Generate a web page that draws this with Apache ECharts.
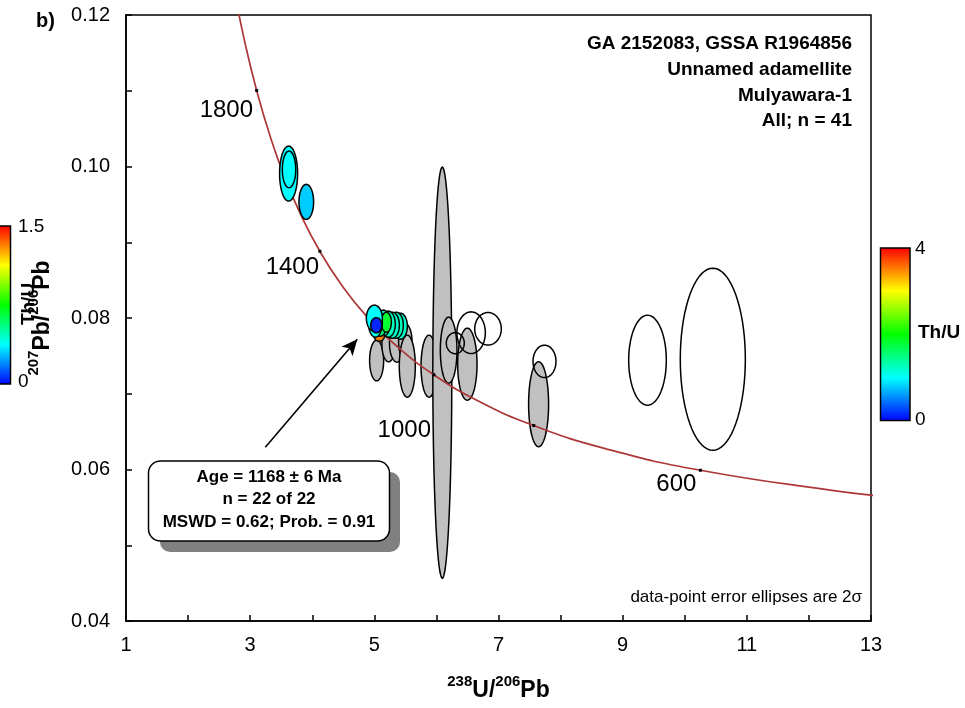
<!DOCTYPE html>
<html>
<head>
<meta charset="utf-8">
<script src="https://cdn.jsdelivr.net/npm/echarts@6/dist/echarts.min.js"></script>
<style>html,body{margin:0;padding:0;background:#fff;}#c{width:965px;height:708px;}</style>
</head>
<body>
<div id="c"></div>
<script>
// Concordia curve (Tera-Wasserburg), ages in Ma
const concAge = [2000,1900,1800,1700,1600,1500,1400,1300,1200,1100,1000,900,800,700,600,500,470];
const concX = [2.749,2.9174,3.1046,3.3140,3.5497,3.8170,4.1227,4.4756,4.8875,5.3746,5.9593,6.6743,7.5684,8.7182,10.2518,12.3993,13.2219];
const concY = [0.12299,0.11629,0.11004,0.10419,0.09872,0.09360,0.08881,0.08432,0.08012,0.07619,0.07250,0.06904,0.06580,0.06276,0.05990,0.05722,0.05645];
const tickAges = [1800,1400,1000,800,600];
const ageLabels = ['1800','1400','1000','600'];
const ageLabelAt = [[2.616,0.10745],[3.679,0.08672],[5.483,0.06519],[9.864,0.05805]];

// Grey (filled) ellipses: centre and 2-sigma semi-axes
const greyX  = [5.037,5.230,5.365,5.499,5.531,5.881,6.095,6.197,6.498,7.646];
const greyY  = [0.07439,0.07654,0.07668,0.07685,0.07364,0.07364,0.07278,0.07575,0.07390,0.06862];
const greySx = [0.113,0.108,0.121,0.108,0.129,0.129,0.153,0.134,0.156,0.161];
const greySy = [0.00268,0.00231,0.00251,0.00238,0.00409,0.00409,0.02714,0.00436,0.00476,0.00561];

// Open ellipses
const openX  = [6.304,6.559,6.831,7.741,9.400,10.452];
const openY  = [0.07668,0.07806,0.07857,0.07427,0.07443,0.07456];
const openSx = [0.145,0.229,0.214,0.185,0.303,0.524];
const openSy = [0.00139,0.00275,0.00215,0.00214,0.00594,0.01202];

// Th/U coloured ellipses
const colX   = [3.619,3.626,3.904,5.419,5.354,5.290,5.225,5.145,5.080,5.096,5.193,5.016,5.000,5.032];
const colY   = [0.09907,0.09962,0.09533,0.07892,0.07905,0.07905,0.07919,0.07932,0.07760,0.07905,0.07945,0.07945,0.07998,0.07905];
const colSx  = [0.145,0.108,0.118,0.113,0.113,0.113,0.113,0.113,0.081,0.097,0.081,0.113,0.129,0.089];
const colSy  = [0.00363,0.00242,0.00231,0.00172,0.00172,0.00172,0.00172,0.00172,0.00066,0.00145,0.00132,0.00198,0.00172,0.00099];
const colThU = [1.0,1.0,0.8,1.2,1.25,1.2,1.25,1.15,3.5,1.5,1.8,1.1,1.0,0.15];

const titleLines = ['GA 2152083, GSSA R1964856','Unnamed adamellite','Mulyawara-1','All; n = 41'];
const boxLines = ['Age = 1168 \u00b1 6 Ma','n = 22 of 22','MSWD = 0.62; Prob. = 0.91'];
const arrowFrom = [3.244,0.06294];
const arrowTo = [4.726,0.0772];

const FONT = "'Liberation Sans', Arial, sans-serif";
const rainbow = ['#0000ff','#00ffff','#00ff00','#ffff00','#ff0000'];

function mk(xs, ys, sxs, sys, extra) {
  return xs.map((x, i) => extra ? [x, ys[i], sxs[i], sys[i], extra[i]] : [x, ys[i], sxs[i], sys[i]]);
}
function ellipseRenderer(kind) {
  return function (params, api) {
    const cx = api.value(0), cy = api.value(1), sx = api.value(2), sy = api.value(3);
    const pts = [];
    for (let k = 0; k < 72; k++) {
      const a = k / 72 * Math.PI * 2;
      pts.push(api.coord([cx + sx * Math.cos(a), cy + sy * Math.sin(a)]));
    }
    let fill = 'rgba(0,0,0,0)';
    if (kind === 'grey') fill = '#c0c0c0';
    if (kind === 'col') fill = api.visual('color');
    return { type: 'polygon', shape: { points: pts }, style: { fill: fill, stroke: '#000', lineWidth: 1.5 } };
  };
}

const concData = concX.map((x, i) => [x, concY[i]]);
const tickData = tickAges.map(a => { const i = concAge.indexOf(a); return [concX[i], concY[i]]; });
const ageLabelData = ageLabels.map((t, i) => ({ value: ageLabelAt[i], name: t }));

const chart = echarts.init(document.getElementById('c'));
const axisFont = { fontFamily: FONT, fontSize: 20, color: '#000' };
const supStyle = { fontFamily: FONT, fontSize: 15, fontWeight: 'bold', color: '#000', verticalAlign: 'top', lineHeight: 28 };
const mainStyle = { fontFamily: FONT, fontSize: 23, fontWeight: 'bold', color: '#000', verticalAlign: 'bottom', lineHeight: 28 };

const graphics = [];
graphics.push({ type: 'text', left: 36, top: 11, style: { text: 'b)', font: 'bold 20px ' + FONT, fill: '#000' } });
titleLines.forEach((t, i) => {
  graphics.push({ type: 'text', x: 852, y: 44 + i * 25.7, style: { text: t, font: 'bold 19px ' + FONT, fill: '#000', align: 'right', verticalAlign: 'middle' } });
});
graphics.push({ type: 'text', x: 862, y: 597, style: { text: 'data-point error ellipses are 2\u03c3', font: '17px ' + FONT, fill: '#000', align: 'right', verticalAlign: 'middle' } });
// annotation box
graphics.push({ type: 'rect', shape: { x: 160, y: 472, width: 240, height: 80, r: 10 }, style: { fill: '#808080' } });
graphics.push({ type: 'rect', shape: { x: 148.5, y: 461, width: 241, height: 80, r: 12 }, style: { fill: '#fff', stroke: '#000', lineWidth: 1.5 } });
boxLines.forEach((t, i) => {
  graphics.push({ type: 'text', x: 269, y: 477 + i * 22.5, style: { text: t, font: 'bold 17px ' + FONT, fill: '#000', align: 'center', verticalAlign: 'middle' } });
});
// colour bars
const grad = () => new echarts.graphic.LinearGradient(0, 0, 0, 1, [
  { offset: 0, color: '#ff0000' }, { offset: 0.25, color: '#ffff00' }, { offset: 0.5, color: '#00ff00' },
  { offset: 0.75, color: '#00ffff' }, { offset: 1, color: '#0000ff' }]);
graphics.push({ type: 'rect', shape: { x: 880.5, y: 248, width: 29.5, height: 172.5 }, style: { fill: grad(), stroke: '#000', lineWidth: 1.5 } });
graphics.push({ type: 'text', x: 915, y: 249, style: { text: '4', font: '19px ' + FONT, fill: '#000', verticalAlign: 'middle' } });
graphics.push({ type: 'text', x: 915, y: 420, style: { text: '0', font: '19px ' + FONT, fill: '#000', verticalAlign: 'middle' } });
graphics.push({ type: 'text', x: 918, y: 333, style: { text: 'Th/U', font: 'bold 19px ' + FONT, fill: '#000', verticalAlign: 'middle' } });
graphics.push({ type: 'rect', shape: { x: -20, y: 226, width: 30.5, height: 158 }, style: { fill: grad(), stroke: '#000', lineWidth: 1.5 } });
graphics.push({ type: 'text', x: 18, y: 227, style: { text: '1.5', font: '19px ' + FONT, fill: '#000', verticalAlign: 'middle' } });
graphics.push({ type: 'text', x: 18, y: 382, style: { text: '0', font: '19px ' + FONT, fill: '#000', verticalAlign: 'middle' } });
graphics.push({ type: 'text', x: 29, y: 304, rotation: Math.PI / 2, style: { text: 'Th/U', font: 'bold 19px ' + FONT, fill: '#000', align: 'center', verticalAlign: 'middle' } });

chart.setOption({
  animation: false,
  backgroundColor: '#fff',
  grid: { left: 126, top: 15, right: 94, bottom: 87, show: true, borderColor: '#000', borderWidth: 1.5, backgroundColor: 'transparent' },
  xAxis: {
    type: 'value', min: 1, max: 13, interval: 1,
    axisLine: { show: true, lineStyle: { color: '#000', width: 1.5 } },
    axisTick: { show: true, inside: true, length: 6, lineStyle: { color: '#000', width: 1.5 } },
    splitLine: { show: false },
    axisLabel: Object.assign({ margin: 14, formatter: v => (Math.round(v) % 2 === 1 ? String(Math.round(v)) : '') }, axisFont),
    name: '{s|238}{m|U/}{s|206}{m|Pb}', nameLocation: 'middle', nameGap: 53,
    nameTextStyle: { rich: { s: supStyle, m: mainStyle } }
  },
  yAxis: {
    type: 'value', min: 0.04, max: 0.12, interval: 0.01,
    axisLine: { show: true, lineStyle: { color: '#000', width: 1.5 } },
    axisTick: { show: true, inside: true, length: 6, lineStyle: { color: '#000', width: 1.5 } },
    splitLine: { show: false },
    axisLabel: Object.assign({ margin: 16, formatter: v => (Math.round(v * 100) % 2 === 0 ? v.toFixed(2) : '') }, axisFont),
    name: '{s|207}{m|Pb/}{s|206}{m|Pb}', nameLocation: 'middle', nameGap: 72, nameRotate: 90,
    nameTextStyle: { rich: { s: supStyle, m: mainStyle } }
  },
  visualMap: [{
    type: 'continuous', show: false, min: 0, max: 4, dimension: 4, seriesIndex: 3,
    inRange: { color: rainbow }
  }],
  graphic: graphics,
  series: [
    {
      type: 'line', data: concData, smooth: true, showSymbol: false, symbol: 'none', clip: true,
      lineStyle: { color: '#ad3636', width: 1.7 }, z: 3, silent: true,
      markLine: {
        silent: true, symbol: ['none', 'arrow'], symbolSize: [11, 16], precision: 5,
        lineStyle: { color: '#000', width: 1.6, type: 'solid' }, label: { show: false },
        data: [[{ coord: arrowFrom }, { coord: arrowTo }]]
      }
    },
    { type: 'custom', renderItem: ellipseRenderer('grey'), data: mk(greyX, greyY, greySx, greySy), encode: { x: 0, y: 1 }, z: 1, clip: true, silent: true },
    { type: 'custom', renderItem: ellipseRenderer('open'), data: mk(openX, openY, openSx, openSy), encode: { x: 0, y: 1 }, z: 2, clip: true, silent: true },
    { type: 'custom', renderItem: ellipseRenderer('col'), data: mk(colX, colY, colSx, colSy, colThU), encode: { x: 0, y: 1 }, z: 4, clip: true, silent: true },
    {
      type: 'scatter', data: tickData, symbol: 'rect', symbolSize: [3, 3], itemStyle: { color: '#000', opacity: 1 }, z: 5, silent: true
    },
    {
      type: 'scatter', data: ageLabelData, symbolSize: 0, z: 6, silent: true, itemStyle: { opacity: 1, color: '#000' },
      label: { show: true, position: 'inside', formatter: p => p.name, fontFamily: FONT, fontSize: 24, color: '#000', opacity: 1, textBorderWidth: 0 }
    }
  ]
});
</script>
</body>
</html>
